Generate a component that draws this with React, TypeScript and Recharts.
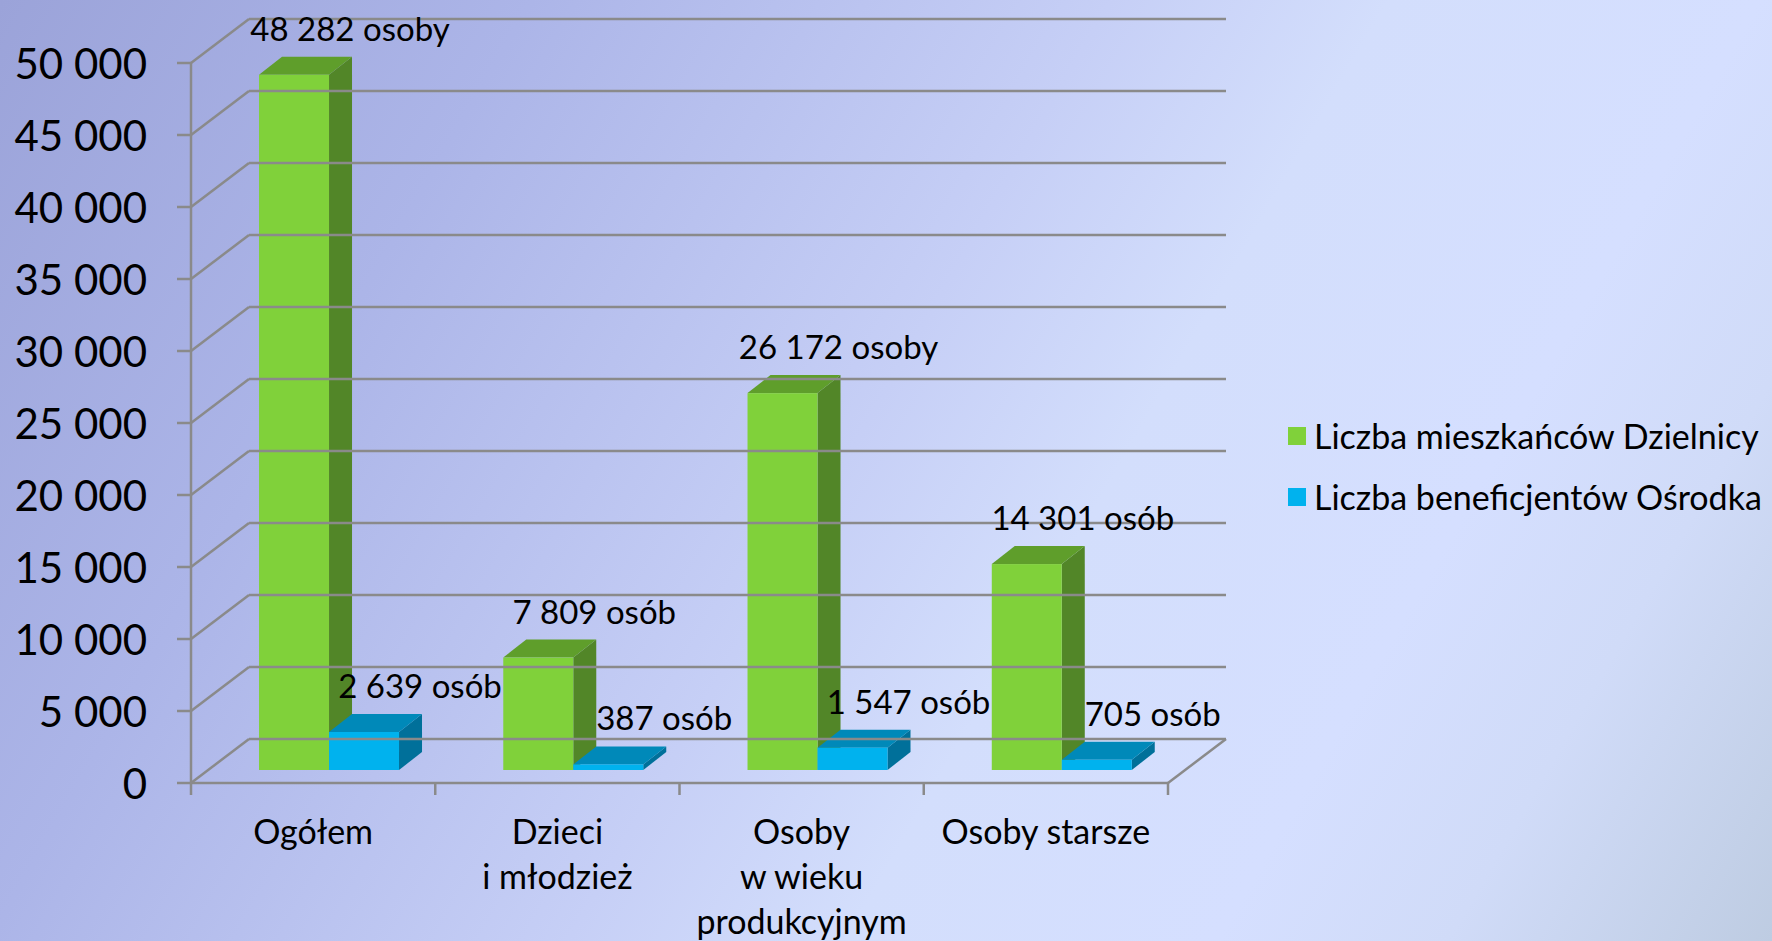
import React from 'react'
import { BarChart, Bar, XAxis, YAxis, Legend, LabelList } from 'recharts'

// chart data
const categories = ['Ogółem', 'Dzieci\ni młodzież', 'Osoby\nw wieku\nprodukcyjnym', 'Osoby starsze']
const residents = [48282, 7809, 26172, 14301]
const beneficiaries = [2639, 387, 1547, 705]
const yTicks = [0, 5000, 10000, 15000, 20000, 25000, 30000, 35000, 40000, 45000, 50000]
const seriesNames = ['Liczba mieszkańców Dzielnicy', 'Liczba beneficjentów Ośrodka']

const data = categories.map((name, i) => ({
  name,
  residents: residents[i],
  beneficiaries: beneficiaries[i],
}))

// layout of the pseudo-3d box
const W = 1772
const H = 941
const PLOT_LEFT = 191
const PLOT_RIGHT = 1168
const PLOT_TOP = 63
const PLOT_BOTTOM = 783
const DEPTH_X = 58
const DEPTH_Y = -44
const BAR_SHIFT_X = 16
const BAR_SHIFT_Y = -13
const BAR_DEPTH_X = 23
const BAR_DEPTH_Y = -18
const GRID = '#8a8a8a'
const FONT = 'Lato, "Open Sans", sans-serif'

const fmt = (n: number) => String(n).replace(/\B(?=(\d{3})+(?!\d))/g, ' ')
const osoby = (n: number) => {
  const last = n % 10
  const tens = Math.floor(n / 10) % 10
  return last >= 2 && last <= 4 && tens !== 1 ? 'osoby' : 'osób'
}

const makeBar3D = (front: string, top: string, side: string) => (props: any) => {
  const { x, y, width, height } = props
  if (width == null || height == null) return null
  const fx = x + BAR_SHIFT_X
  const fy = y + BAR_SHIFT_Y
  const w = width
  const h = height
  const topPts = `${fx},${fy} ${fx + BAR_DEPTH_X},${fy + BAR_DEPTH_Y} ${fx + w + BAR_DEPTH_X},${fy + BAR_DEPTH_Y} ${fx + w},${fy}`
  const sidePts = `${fx + w},${fy} ${fx + w + BAR_DEPTH_X},${fy + BAR_DEPTH_Y} ${fx + w + BAR_DEPTH_X},${fy + h + BAR_DEPTH_Y} ${fx + w},${fy + h}`
  return (
    <g>
      <polygon points={sidePts} fill={side} />
      <polygon points={topPts} fill={top} />
      <rect x={fx} y={fy} width={w} height={h} fill={front} />
    </g>
  )
}

const greenBar = makeBar3D('#80d13a', '#5f9e2b', '#528628')
const blueBar = makeBar3D('#00b2ee', '#0089b9', '#00709a')

const YTick = (props: any) => {
  const { y, payload } = props
  const bx = PLOT_LEFT + DEPTH_X
  const by = y + DEPTH_Y
  return (
    <g>
      <text x={PLOT_LEFT - 44} y={y} textAnchor="end" dominantBaseline="central"
        fontFamily={FONT} fontSize={42} fill="#000">{fmt(payload.value)}</text>
      <line x1={PLOT_LEFT - 14} y1={y} x2={PLOT_LEFT} y2={y} stroke={GRID} strokeWidth={2.5} />
      <line x1={PLOT_LEFT} y1={y} x2={bx} y2={by} stroke={GRID} strokeWidth={2.5} />
      <line x1={bx} y1={by} x2={PLOT_RIGHT + DEPTH_X} y2={by} stroke={GRID} strokeWidth={2.5} />
      {payload.value === 0 && (
        <line x1={PLOT_RIGHT} y1={y} x2={PLOT_RIGHT + DEPTH_X} y2={by} stroke={GRID} strokeWidth={2.5} />
      )}
    </g>
  )
}

const XTick = (props: any) => {
  const { x, y, payload, index } = props
  const band = (PLOT_RIGHT - PLOT_LEFT) / categories.length
  const lines = String(payload.value).split('\n')
  const base = PLOT_BOTTOM
  return (
    <g>
      <line x1={x - band / 2} y1={base} x2={x - band / 2} y2={base + 12} stroke={GRID} strokeWidth={2.5} />
      {index === categories.length - 1 && (
        <line x1={x + band / 2} y1={base} x2={x + band / 2} y2={base + 12} stroke={GRID} strokeWidth={2.5} />
      )}
      {lines.map((t, i) => (
        <text key={i} x={x} y={base + 61 + i * 45} textAnchor="middle"
          fontFamily={FONT} fontSize={34} fill="#000">{t}</text>
      ))}
    </g>
  )
}

const barLabel = (props: any) => {
  const { x, y, width, value } = props
  const cx = x + width / 2 + BAR_SHIFT_X + 56
  const cy = y + BAR_SHIFT_Y - 47
  return (
    <text x={cx} y={cy} textAnchor="middle" dominantBaseline="central"
      fontFamily={FONT} fontSize={33} fill="#000">{`${fmt(value)} ${osoby(value)}`}</text>
  )
}

const renderLegend = (props: any) => {
  const items = [...(props.payload || [])].sort(
    (a: any, b: any) => seriesNames.indexOf(a.value) - seriesNames.indexOf(b.value))
  return (
    <div style={{ fontFamily: FONT, fontSize: 34, color: '#000' }}>
      {items.map((entry: any, i: number) => (
        <div key={i} style={{ display: 'flex', alignItems: 'center', height: 61 }}>
          <span style={{ width: 18, height: 18, background: entry.color, marginRight: 8, display: 'inline-block' }} />
          <span>{entry.value}</span>
        </div>
      ))}
    </div>
  )
}

export default function App() {
  return (
    <div style={{
      position: 'fixed', left: 0, top: 0, width: W, height: H,
      background: 'linear-gradient(120deg, #9ba3d9 0%, #acb5e8 23%, #c6cff6 48%, #d3defc 60%, #d5dfff 76%, #d0dbf8 86%, #becce2 100%)',
    }}>
      <BarChart width={W} height={H} data={data}
        margin={{ top: PLOT_TOP, right: W - PLOT_RIGHT, bottom: 0, left: 0 }}
        barCategoryGap="21.3%" barGap={0}>
        <YAxis domain={[0, 50000]} ticks={yTicks} interval={0} width={PLOT_LEFT}
          axisLine={{ stroke: GRID, strokeWidth: 2.5 }} tickLine={false} tick={<YTick />} />
        <XAxis dataKey="name" interval={0} height={H - PLOT_BOTTOM}
          axisLine={{ stroke: GRID, strokeWidth: 2.5 }} tickLine={false} tick={<XTick />} />
        <Legend layout="vertical" align="center" verticalAlign="middle" content={renderLegend}
          wrapperStyle={{ position: 'absolute', left: 1288, top: 405, width: 480 }} />
        <Bar dataKey="residents" name={seriesNames[0]} fill="#80d13a" shape={greenBar} isAnimationActive={false}>
          <LabelList dataKey="residents" content={barLabel} />
        </Bar>
        <Bar dataKey="beneficiaries" name={seriesNames[1]} fill="#00b2ee" shape={blueBar} isAnimationActive={false}>
          <LabelList dataKey="beneficiaries" content={barLabel} />
        </Bar>
      </BarChart>
    </div>
  )
}
